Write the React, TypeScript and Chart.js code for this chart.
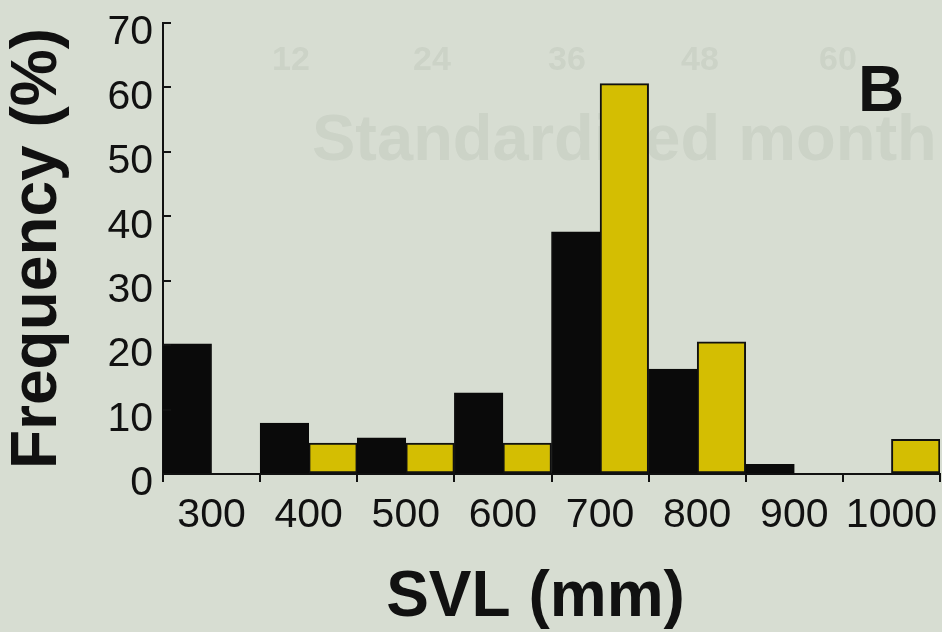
import { useEffect, useRef } from "react";
import { Chart, registerables } from "chart.js";

Chart.register(...registerables);

const categories = ["300", "400", "500", "600", "700", "800", "900", "1000"];
const blackValues = [20.2, 7.9, 5.6, 12.6, 37.6, 16.3, 1.5, 0];
const yellowValues = [0, 4.8, 4.8, 4.8, 60.6, 20.5, 0, 5.4];
const yTickValues = [0, 10, 20, 30, 40, 50, 60, 70];
const ghostTickLabels = ["12", "24", "36", "48", "60"];

const BG = "#d7ddd2";
const INK = "#111111";
const YELLOW = "#d4be02";
const FONT = "'Liberation Sans', Arial, Helvetica, sans-serif";

export default function App() {
  const ref = useRef<HTMLCanvasElement>(null);

  useEffect(() => {
    const canvas = ref.current;
    if (!canvas) return;

    const backgroundPlugin = {
      id: "paperBackground",
      beforeDraw(chart: any) {
        const ctx = chart.ctx;
        ctx.save();
        ctx.fillStyle = BG;
        ctx.fillRect(0, 0, chart.width, chart.height);
        // faint show-through from the underlying page
        ctx.fillStyle = "rgba(40,50,40,0.06)";
        ctx.font = `bold 34px ${FONT}`;
        ctx.textAlign = "center";
        ctx.textBaseline = "alphabetic";
        const gx = [291, 432, 567, 700, 838];
        ghostTickLabels.forEach((t, i) => ctx.fillText(t, gx[i], 70));
        ctx.font = `bold 65px ${FONT}`;
        ctx.textAlign = "left";
        ctx.fillText("Standardized month", 312, 160);
        ctx.restore();
      },
    };

    // inward-pointing tick marks on the y axis, plus the small stub below the origin
    const innerTicksPlugin = {
      id: "innerTicks",
      afterDatasetsDraw(chart: any) {
        const y = chart.scales.y;
        const ctx = chart.ctx;
        const x0 = chart.chartArea.left;
        ctx.save();
        ctx.strokeStyle = INK;
        ctx.lineWidth = 2;
        ctx.beginPath();
        y.ticks.forEach((t: any) => {
          const py = Math.round(y.getPixelForValue(t.value));
          ctx.moveTo(x0, py);
          ctx.lineTo(x0 + 8, py);
        });
        ctx.stroke();
        ctx.restore();
      },
    };

    const panelLabelPlugin = {
      id: "panelLabel",
      afterDraw(chart: any) {
        const ctx = chart.ctx;
        ctx.save();
        ctx.fillStyle = INK;
        ctx.font = `bold 64px ${FONT}`;
        ctx.textAlign = "left";
        ctx.textBaseline = "alphabetic";
        ctx.fillText("B", 858, 111);
        ctx.restore();
      },
    };

    const chart = new Chart(canvas, {
      type: "bar",
      data: {
        labels: categories,
        datasets: [
          {
            label: "Black",
            data: blackValues,
            backgroundColor: "#0a0a0a",
            borderColor: "#0a0a0a",
            borderWidth: 1,
            borderSkipped: false,
            categoryPercentage: 1,
            barPercentage: 1,
          },
          {
            label: "Yellow",
            data: yellowValues,
            backgroundColor: YELLOW,
            borderColor: INK,
            borderWidth: 2,
            borderSkipped: false,
            categoryPercentage: 1,
            barPercentage: 1,
          },
        ],
      },
      options: {
        responsive: false,
        animation: false,
        devicePixelRatio: 1,
        layout: { padding: { top: 23, right: 2, left: 0, bottom: 0 } },
        plugins: {
          legend: { display: false },
          tooltip: { enabled: false },
        },
        scales: {
          x: {
            ticks: {
              color: INK,
              font: { family: FONT, size: 41, lineHeight: 67 / 41 },
              padding: 0,
              maxRotation: 0,
              autoSkip: false,
            },
            grid: {
              offset: true,
              drawOnChartArea: false,
              drawTicks: true,
              tickLength: 8,
              color: INK,
              lineWidth: 2,
            },
            border: { display: true, color: INK, width: 2 },
            title: {
              display: true,
              text: "SVL (mm)\u2002",
              color: INK,
              font: { family: FONT, size: 64, weight: "bold", lineHeight: 1.05 },
              padding: 0,
            },
            afterFit(scale: any) {
              scale.height = 158;
            },
          },
          y: {
            min: 0,
            max: 70,
            afterBuildTicks(scale: any) {
              scale.ticks = yTickValues.map((v) => ({ value: v }));
            },
            ticks: {
              color: INK,
              font: { family: FONT, size: 41, lineHeight: 1 },
              padding: 0,
              labelOffset: 10,
            },
            grid: {
              drawOnChartArea: false,
              drawTicks: true,
              tickLength: 10,
              tickColor: "rgba(0,0,0,0)",
              color: INK,
              lineWidth: 2,
            },
            border: { display: true, color: INK, width: 2 },
            title: {
              display: true,
              text: "Frequency (%)",
              color: INK,
              font: { family: FONT, size: 64, weight: "bold", lineHeight: 1.2 },
              padding: 0,
            },
            afterFit(scale: any) {
              scale.width = 163;
            },
          },
        },
      },
      plugins: [backgroundPlugin, innerTicksPlugin, panelLabelPlugin],
    } as any);

    return () => chart.destroy();
  }, []);

  return (
    <div
      style={{
        position: "fixed",
        left: 0,
        top: 0,
        width: 942,
        height: 632,
        background: BG,
      }}
    >
      <canvas
        ref={ref}
        width={942}
        height={632}
        style={{ width: 942, height: 632, display: "block" }}
      />
    </div>
  );
}
